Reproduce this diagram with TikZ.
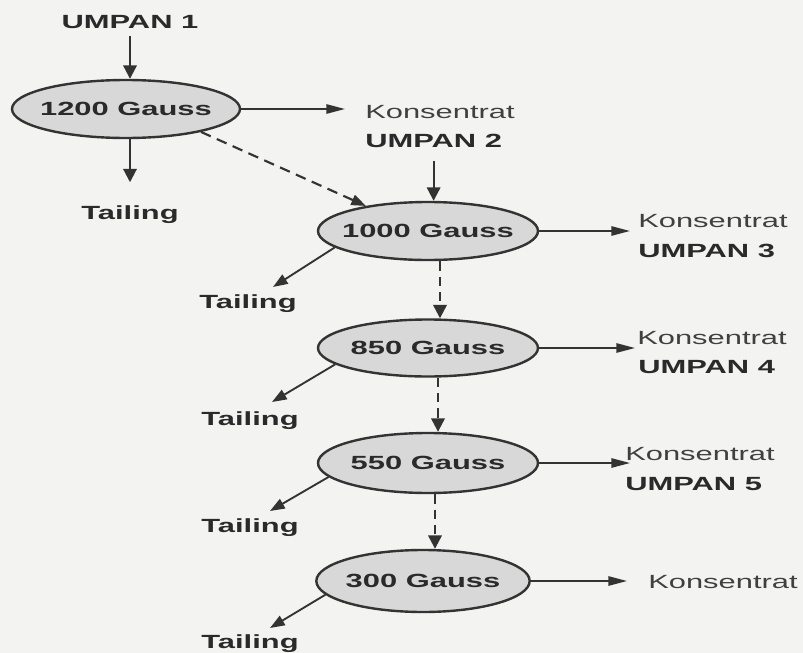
\documentclass[tikz,border=0pt]{standalone}
\usepackage{fontspec}
\setmainfont{Liberation Sans}
\newfontfamily\wsans[FakeStretch=1.62]{Liberation Sans}
\usetikzlibrary{shapes.geometric,arrows.meta}
\definecolor{bg}{HTML}{F3F3F1}
\definecolor{ink}{HTML}{333333}
\definecolor{txt}{HTML}{2A2A2A}
\definecolor{txtlight}{HTML}{404040}
\definecolor{stagefill}{HTML}{D8D8D8}
\begin{document}
\begin{tikzpicture}[x=0.75pt,y=-0.75pt,
  stage/.style={ellipse, draw=ink, line width=1.8pt, fill=stagefill, inner xsep=-60pt, inner ysep=0pt,
    font=\wsans\bfseries\fontsize{14.3}{16}\selectfont, text=txt},
  boldlbl/.style={inner sep=0pt, font=\wsans\bfseries\fontsize{14.3}{16}\selectfont, text=txt},
  lightlbl/.style={inner sep=0pt, font=\wsans\fontsize{14.3}{16}\selectfont, text=txtlight},
  harr/.style={draw=ink, line width=1.3pt, -{Triangle[length=14pt,width=7pt]}},
  varr/.style={draw=ink, line width=1.6pt, -{Triangle[length=10pt,width=10pt]}},
  diarr/.style={draw=ink, line width=1.4pt, -{Triangle[length=11pt,width=8pt]}},
  vdash/.style={varr, line width=1.8pt, dash pattern=on 7pt off 4.5pt},
  ddash/.style={diarr, line width=1.6pt, dash pattern=on 8pt off 5pt}]
\fill[bg] (0,0) rectangle (803,653);
\useasboundingbox (0,0) rectangle (803,653);

% stages
\node[stage, minimum width=171pt, minimum height=43.5pt] (e1) at (126,109) {1200 Gauss};
\node[stage, minimum width=165pt, minimum height=43.5pt] (e2) at (428,231) {1000 Gauss};
\node[stage, minimum width=165pt, minimum height=42.75pt] (e3) at (428,348) {850 Gauss};
\node[stage, minimum width=165pt, minimum height=45pt] (e4) at (428,463) {550 Gauss};
\node[stage, minimum width=160pt, minimum height=46.5pt] (e5) at (423,581) {300 Gauss};

% labels
\node[boldlbl, anchor=base] (u1) at (130,28) {UMPAN 1};
\node[lightlbl, anchor=base west] (k1) at (365,118) {Konsentrat};
\node[boldlbl, anchor=base west] (u2) at (365,147) {UMPAN 2};
\node[boldlbl, anchor=base] (t1) at (130,219) {Tailing};

\node[lightlbl, anchor=base west] (k2) at (638,227) {Konsentrat};
\node[boldlbl, anchor=base west] (u3) at (638,257) {UMPAN 3};
\node[boldlbl, anchor=base] (t2) at (248,308) {Tailing};

\node[lightlbl, anchor=base west] (k3) at (637,344) {Konsentrat};
\node[boldlbl, anchor=base west] (u4) at (638,373) {UMPAN 4};
\node[boldlbl, anchor=base] (t3) at (250,425) {Tailing};

\node[lightlbl, anchor=base west] (k4) at (625,460) {Konsentrat};
\node[boldlbl, anchor=base west] (u5) at (625,490) {UMPAN 5};
\node[boldlbl, anchor=base] (t4) at (250,532) {Tailing};

\node[lightlbl, anchor=base west] (k5) at (648,588) {Konsentrat};
\node[boldlbl, anchor=base] (t5) at (250,648) {Tailing};

% tailing arrow ends
\coordinate (c2) at (273,287);
\coordinate (c3) at (272,402);
\coordinate (c4) at (270,511);
\coordinate (c5) at (270,628);

% connectors
\draw[varr, shorten <=6pt] (u1.south) -- (u1.south |- e1.north);
\draw[harr, shorten >=15pt] (e1.east) -- (e1.east -| k1.west);
\draw[varr, shorten >=17pt] (e1.south -| t1.north) -- (t1.north);
\draw[ddash] (e1.-17) -- (e2.158);

\draw[varr, shorten <=10pt] (u2.south) -- (u2.south |- e2.north);
\draw[harr, shorten >=6pt] (e2.east) -- (e2.east -| k2.west);
\draw[diarr] (e2.190) -- (c2);
\draw[vdash] ([xshift=9pt]e2.south) -- ([xshift=9pt]e3.north);

\draw[harr, shorten >=1.5pt] (e3.east) -- (e3.east -| k3.west);
\draw[diarr] (e3.190) -- (c3);
\draw[vdash] ([xshift=7.5pt]e3.south) -- ([xshift=7.5pt]e4.north);

\draw[harr, shorten >=-3.75pt] (e4.east) -- (e4.east -| k4.west);
\draw[diarr] (e4.188) -- (c4);
\draw[vdash] ([xshift=5.25pt]e4.south) -- ([xshift=5.25pt]e4.south |- e5.north);

\draw[harr, shorten >=15.75pt] (e5.east) -- (e5.east -| k5.west);
\draw[diarr] (e5.188) -- (c5);
\end{tikzpicture}
\end{document}
